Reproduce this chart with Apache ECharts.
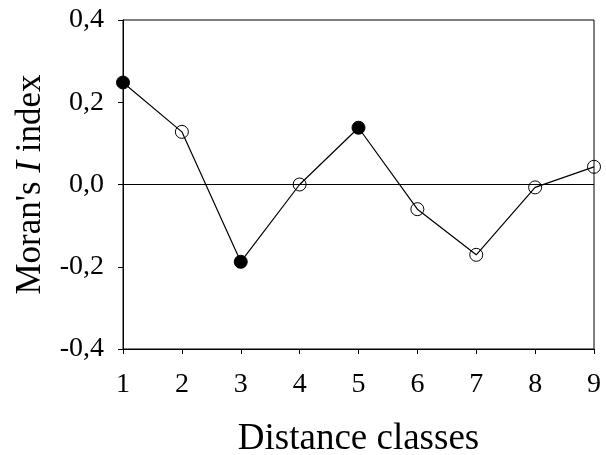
<!DOCTYPE html>
<html>
<head>
<meta charset="utf-8">
<script src="https://cdn.jsdelivr.net/npm/echarts@6/dist/echarts.min.js"></script>
<style>html,body{margin:0;padding:0;background:#fff}#c{width:606px;height:455px}</style>
</head>
<body>
<div id="c"></div>
<script>
var distanceClasses = [1, 2, 3, 4, 5, 6, 7, 8, 9];
var moranI = [0.248, 0.128, -0.188, 0.000, 0.138, -0.060, -0.171, -0.007, 0.043];
var significant = [true, false, true, false, true, false, false, false, false];
var yTicks = [-0.4, -0.2, 0.0, 0.2, 0.4];

var FONT = 'Liberation Serif';
var data = distanceClasses.map(function (c, i) {
  return {
    value: [c, moranI[i]],
    itemStyle: { color: significant[i] ? '#000' : 'rgba(255,255,255,0)', borderColor: '#000', borderWidth: 1 }
  };
});

var chart = echarts.init(document.getElementById('c'), null, { renderer: 'canvas' });
chart.setOption({
  animation: false,
  backgroundColor: '#fff',
  grid: {
    left: 123, right: 12, top: 20, bottom: 106,
    containLabel: false, outerBoundsMode: 'none',
    show: true, borderColor: '#000', borderWidth: 1, backgroundColor: 'transparent'
  },
  xAxis: {
    type: 'value', min: 1, max: 9, interval: 1,
    axisLine: { onZero: false, lineStyle: { color: '#000', width: 1 } },
    axisTick: { show: true, inside: false, length: 5, lineStyle: { color: '#000' } },
    axisLabel: { color: '#000', fontFamily: FONT, fontSize: 28, margin: 22 },
    splitLine: { show: false },
    name: 'Distance classes', nameLocation: 'middle', nameGap: 72,
    nameTextStyle: { color: '#000', fontFamily: FONT, fontSize: 37 }
  },
  yAxis: {
    type: 'value', min: yTicks[0], max: yTicks[yTicks.length - 1], interval: 0.2,
    axisLine: { show: true, lineStyle: { color: '#000', width: 1 } },
    axisTick: { show: true, inside: false, length: 5, lineStyle: { color: '#000' } },
    axisLabel: {
      color: '#000', fontFamily: FONT, fontSize: 28, margin: 19,
      formatter: function (v) { return v.toFixed(1).replace('.', ','); }
    },
    splitLine: { show: false },
    name: "Moran's {i|I} index", nameLocation: 'middle', nameGap: 73,
    nameTextStyle: {
      color: '#000', fontFamily: FONT, fontSize: 35,
      rich: { i: { fontStyle: 'italic', fontFamily: FONT, fontSize: 35, color: '#000' } }
    }
  },
  series: [{
    type: 'line',
    data: data,
    symbol: 'circle',
    symbolSize: 13,
    lineStyle: { color: '#000', width: 1.2 },
    z: 3,
    markLine: {
      silent: true, symbol: ['none', 'none'],
      label: { show: false },
      lineStyle: { color: '#000', width: 1, type: 'solid' },
      data: [{ yAxis: 0 }],
      z: 1
    }
  }]
});
</script>
</body>
</html>
